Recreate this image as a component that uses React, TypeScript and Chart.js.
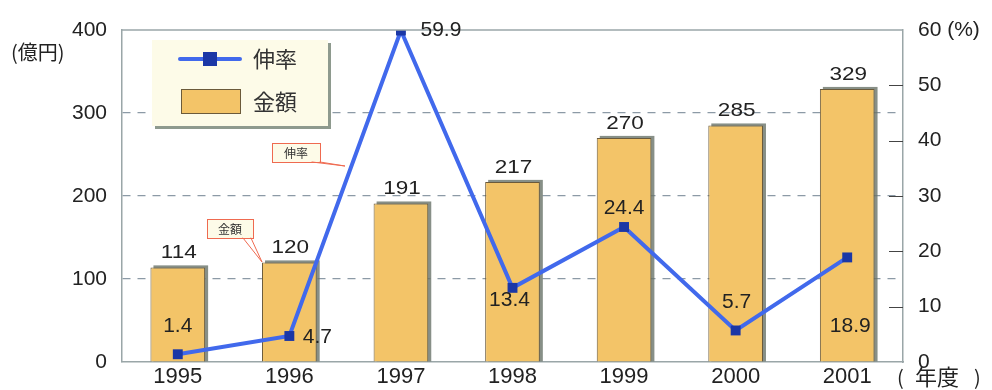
import React, { useEffect, useRef } from "react";
import { Chart, registerables } from "chart.js";

Chart.register(...registerables);

const YEARS = ["1995", "1996", "1997", "1998", "1999", "2000", "2001"];
const AMOUNT = [114, 120, 191, 217, 270, 285, 329];
const GROWTH = [1.4, 4.7, 59.9, 13.4, 24.4, 5.7, 18.9];
const LEFT_TICKS = [0, 100, 200, 300, 400];
const RIGHT_TICKS = [0, 10, 20, 30, 40, 50, 60];

// annotation offsets for growth labels (style, not data)
const GROWTH_LABEL_OFFSETS: [number, number][] = [
  [0, -28],
  [28, 1],
  [40, 0],
  [-3, 12],
  [0, -19],
  [1, -28],
  [3, 69],
];

const FONT = "'Liberation Sans', Arial, sans-serif";
const CJK = "'Noto Sans CJK JP', sans-serif";
const BAR_FILL = "#F3C468";
const BAR_EDGE = "#6b5a3a";
const LINE_COLOR = "#4169ec";
const MARK_COLOR = "#1b37a6";
const TEXT = "#222";
const AXIS = "#9aa6a8";

const App: React.FC = () => {
  const ref = useRef<HTMLCanvasElement | null>(null);

  useEffect(() => {
    document.body.style.margin = "0";
    const canvas = ref.current;
    if (!canvas) return;

    const barShadow = {
      id: "barShadow",
      beforeDatasetsDraw(chart: any) {
        const ctx = chart.ctx;
        const meta = chart.getDatasetMeta(1);
        ctx.save();
        ctx.fillStyle = "rgba(105,115,105,0.8)";
        meta.data.forEach((el: any) => {
          const w = el.width;
          const left = el.x - w / 2;
          ctx.fillRect(left + 3, el.y - 2, w, el.base - el.y + 2);
        });
        ctx.restore();
      },
    };

    const decor = {
      id: "decor",
      afterDraw(chart: any) {
        const ctx = chart.ctx;
        const a = chart.chartArea;
        const y1 = chart.scales.y1;
        ctx.save();
        // top border
        ctx.strokeStyle = AXIS;
        ctx.lineWidth = 1.5;
        ctx.beginPath();
        ctx.moveTo(a.left, a.top);
        ctx.lineTo(a.right, a.top);
        ctx.stroke();
        // right inner tick marks
        ctx.strokeStyle = "#444";
        ctx.lineWidth = 1;
        RIGHT_TICKS.forEach((t) => {
          if (t === 0 || t === 60) return;
          const yy = Math.round(y1.getPixelForValue(t)) + 0.5;
          ctx.beginPath();
          ctx.moveTo(a.right - 14, yy);
          ctx.lineTo(a.right, yy);
          ctx.stroke();
        });

        ctx.fillStyle = TEXT;
        ctx.textAlign = "center";
        ctx.textBaseline = "middle";
        // bar value labels (wide lettering)
        ctx.font = `18px ${FONT}`;
        const barMeta = chart.getDatasetMeta(1);
        barMeta.data.forEach((el: any, i: number) => {
          ctx.save();
          ctx.translate(el.x + 1, el.y - 14);
          ctx.scale(1.25, 1);
          ctx.fillText(String(AMOUNT[i]), 0, 0);
          ctx.restore();
        });
        // growth labels
        ctx.font = `21px ${FONT}`;
        const lineMeta = chart.getDatasetMeta(0);
        lineMeta.data.forEach((el: any, i: number) => {
          const [dx, dy] = GROWTH_LABEL_OFFSETS[i];
          ctx.fillText(GROWTH[i].toFixed(1), el.x + dx, el.y + dy);
        });

        // unit labels
        ctx.textAlign = "left";
        ctx.font = `20px ${CJK}`;
        ctx.fillText("(億円)", 11, a.top + 22);
        const by = a.bottom + 15;
        ctx.fillText("(", a.right - 6, by);
        ctx.fillText(")", a.right + 71, by);
        ctx.font = `22px ${CJK}`;
        ctx.fillText("年度", a.right + 12, by);

        // legend box
        const lx = 152, ly = 40, lw = 176, lh = 86;
        ctx.fillStyle = "#8e9a8e";
        ctx.fillRect(lx + 3, ly + 3, lw, lh);
        ctx.fillStyle = "#fdfbe8";
        ctx.fillRect(lx, ly, lw, lh);
        // line sample
        ctx.strokeStyle = LINE_COLOR;
        ctx.lineWidth = 4;
        ctx.lineCap = "round";
        ctx.beginPath();
        ctx.moveTo(180, 59);
        ctx.lineTo(240, 59);
        ctx.stroke();
        ctx.fillStyle = MARK_COLOR;
        ctx.fillRect(203, 52, 14, 14);
        // bar sample
        ctx.fillStyle = BAR_FILL;
        ctx.fillRect(181, 89, 59, 24);
        ctx.strokeStyle = BAR_EDGE;
        ctx.lineWidth = 1;
        ctx.strokeRect(181.5, 89.5, 59, 24);
        ctx.fillStyle = "#333";
        ctx.font = `22px ${CJK}`;
        ctx.textBaseline = "middle";
        ctx.fillText("伸率", 253, 59);
        ctx.fillText("金額", 253, 102);

        // callouts
        const callout = (x: number, y: number, w: number, h: number, text: string, px1: number, py1: number, tx: number, ty: number) => {
          ctx.fillStyle = "#fdfbe8";
          ctx.fillRect(x, y, w, h);
          ctx.strokeStyle = "#ef6a50";
          ctx.lineWidth = 1;
          ctx.strokeRect(x + 0.5, y + 0.5, w, h);
          ctx.beginPath();
          ctx.moveTo(px1, py1);
          ctx.lineTo(tx, ty);
          ctx.lineTo(px1 - 8, py1);
          ctx.stroke();
          ctx.fillStyle = "#333";
          ctx.font = `12px ${CJK}`;
          ctx.textAlign = "center";
          ctx.fillText(text, x + w / 2, y + h / 2 + 1);
        };
        callout(272, 143, 48, 19, "伸率", 320, 162, 345, 166);
        callout(207, 219, 46, 19, "金額", 251, 238, 262, 262);
        ctx.restore();
      },
    };

    const chart = new Chart(canvas, {
      data: {
        labels: YEARS,
        datasets: [
          {
            type: "line",
            label: "伸率",
            data: GROWTH,
            yAxisID: "y1",
            borderColor: LINE_COLOR,
            borderWidth: 4,
            pointStyle: "rect",
            pointRadius: 7,
            pointBackgroundColor: MARK_COLOR,
            pointBorderColor: MARK_COLOR,
            pointBorderWidth: 0,
            tension: 0,
            order: 0,
          },
          {
            type: "bar",
            label: "金額",
            data: AMOUNT,
            yAxisID: "y",
            backgroundColor: BAR_FILL,
            borderColor: BAR_EDGE,
            borderWidth: 1,
            barPercentage: 0.49,
            categoryPercentage: 1,
            order: 1,
          },
        ],
      } as any,
      options: {
        responsive: false,
        animation: false,
        layout: { padding: { top: 30, left: 0, right: 0, bottom: 0 } },
        plugins: { legend: { display: false }, tooltip: { enabled: false } },
        scales: {
          x: {
            grid: { display: false, drawTicks: false, tickLength: 0 },
            border: { display: true, color: AXIS, width: 1.5 },
            ticks: { color: TEXT, font: { size: 22, family: FONT, lineHeight: 1 }, padding: 4, maxRotation: 0 },
            afterFit: (s: any) => { s.height = 28; },
          },
          y: {
            position: "left",
            min: 0,
            max: 400,
            afterBuildTicks: (s: any) => { s.ticks = LEFT_TICKS.map((v) => ({ value: v })); },
            grid: {
              drawTicks: false,
              color: (c: any) => (c.tick && (c.tick.value === 0 || c.tick.value === 400) ? "rgba(0,0,0,0)" : "#8c9aa6"),
              lineWidth: 1.2,
            },
            border: { display: true, color: AXIS, width: 1.5, dash: [8, 7] },
            ticks: { color: TEXT, font: { size: 21, family: FONT }, padding: 15 },
            afterFit: (s: any) => { s.width = 122; },
          },
          y1: {
            position: "right",
            min: 0,
            max: 60,
            afterBuildTicks: (s: any) => { s.ticks = RIGHT_TICKS.map((v) => ({ value: v })); },
            grid: { drawOnChartArea: false, drawTicks: false },
            border: { display: true, color: AXIS, width: 1.5 },
            ticks: {
              color: TEXT,
              font: { size: 21, family: FONT },
              padding: 15,
              callback: (v: any) => (v === 60 ? "60 (%)" : String(v)),
            },
            afterFit: (s: any) => { s.width = 89; },
          },
        },
      } as any,
      plugins: [barShadow, decor],
    });
    return () => chart.destroy();
  }, []);

  return (
    <div style={{ width: 992, height: 390, background: "#fff" }}>
      <canvas ref={ref} width={992} height={390} style={{ display: "block" }} />
    </div>
  );
};

export default App;
